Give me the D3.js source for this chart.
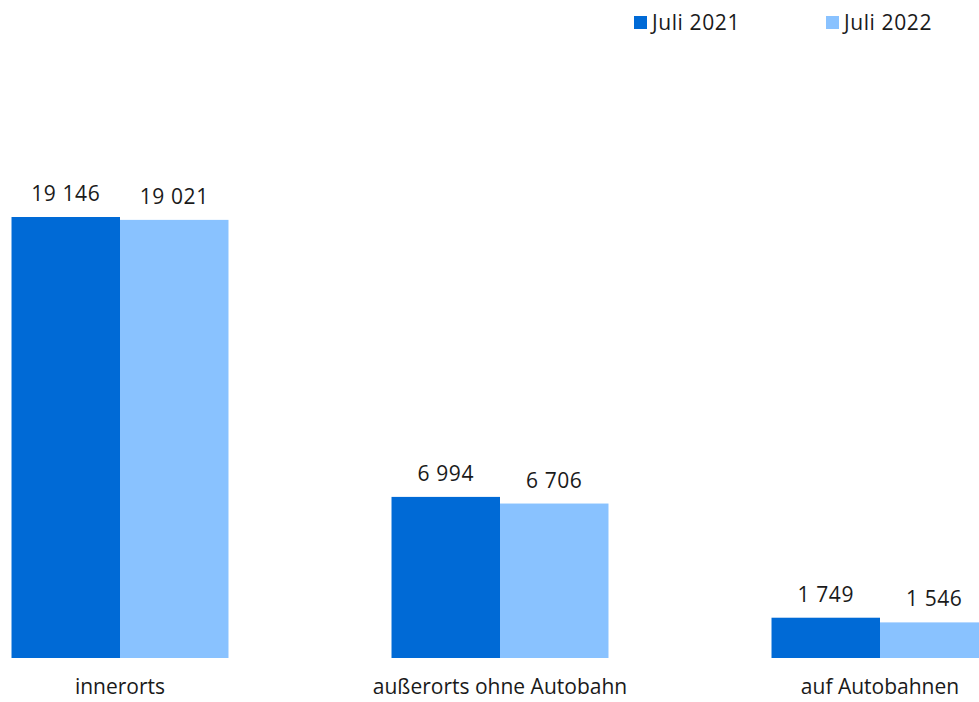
<!DOCTYPE html>
<html><head><meta charset="utf-8">
<script src="https://cdn.jsdelivr.net/npm/d3@7"></script>
<style>body{margin:0;background:#fff}svg{display:block}text{font-family:"Open Sans","Noto Sans",sans-serif;fill:#1a1a1a}</style>
</head><body><svg id="c" width="979" height="702"></svg>
<script>
const categories = ["innerorts", "außerorts ohne Autobahn", "auf Autobahnen"];
const seriesNames = ["Juli 2021", "Juli 2022"];
const juli2021 = [19146, 6994, 1749];
const juli2022 = [19021, 6706, 1546];
const colors = ["#006ad6", "#89c2ff"];

const svg = d3.select("#c");
const baseY = 658, topY = 217;
const x = d3.scaleBand().domain(categories).range([-70, 1070]).paddingInner(0.429).paddingOuter(0.2145);
const xs = d3.scaleBand().domain(seriesNames).range([0, x.bandwidth()]);
const y = d3.scaleLinear().domain([0, 19146]).range([baseY, topY]);
const fmt = v => d3.format(",")(v).replace(/,/g, " ");

const series = [juli2021, juli2022];
categories.forEach((c, i) => {
  const g = svg.append("g").attr("transform", `translate(${x(c)},0)`);
  series.forEach((s, j) => {
    g.append("rect").attr("x", xs(seriesNames[j])).attr("width", xs.bandwidth())
      .attr("y", y(s[i])).attr("height", baseY - y(s[i])).attr("fill", colors[j]);
    g.append("text").attr("x", xs(seriesNames[j]) + xs.bandwidth() / 2).attr("y", y(s[i]) - 16)
      .attr("text-anchor", "middle").attr("font-size", 21).attr("letter-spacing", 0.6).text(fmt(s[i]));
  });
  svg.append("text").attr("x", x(c) + x.bandwidth() / 2).attr("y", 694)
    .attr("text-anchor", "middle").attr("font-size", 21).text(c);
});

const legX = [634, 826];
seriesNames.forEach((n, j) => {
  svg.append("rect").attr("x", legX[j]).attr("y", 16).attr("width", 13).attr("height", 13).attr("fill", colors[j]);
  svg.append("text").attr("x", legX[j] + 18).attr("y", 30).attr("font-size", 21).attr("letter-spacing", 0.6).text(n);
});
</script></body></html>
